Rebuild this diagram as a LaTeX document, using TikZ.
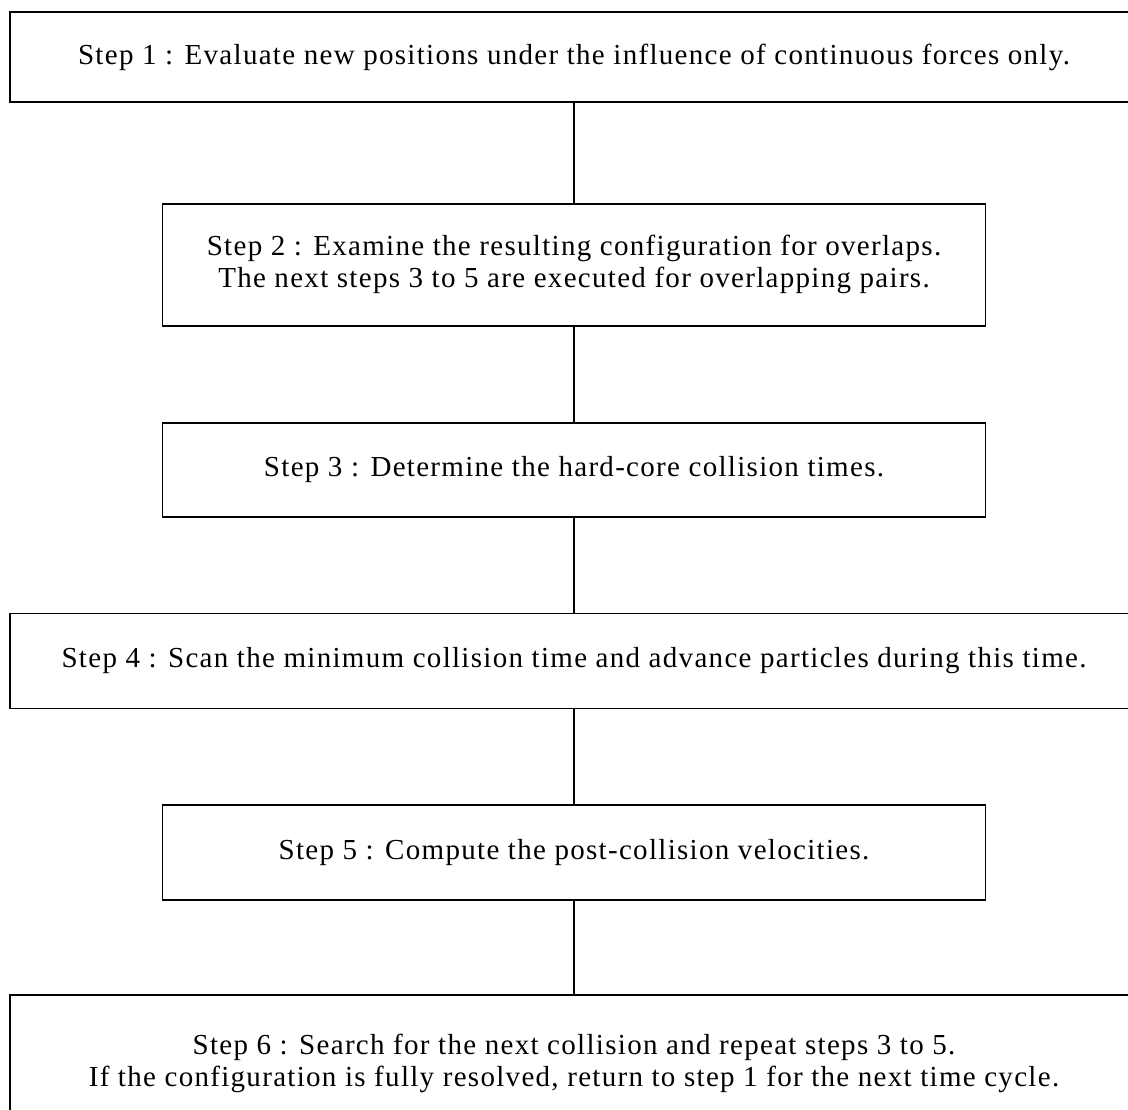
\documentclass[tikz,border=0pt]{standalone}
\usepackage{fontspec}
\setmainfont{Liberation Serif}[LetterSpace=4.5]
\usetikzlibrary{positioning}

\begin{document}
\begin{tikzpicture}[
    stepbox/.style={
        rectangle, draw,
        line width=0.9pt,
        inner sep=0pt,
        align=center,
        font=\fontsize{14.5}{16}\selectfont
    },
    wide/.style={stepbox, minimum width=564pt},
    narrow/.style={stepbox, minimum width=411.5pt},
    link/.style={line width=0.9pt},
    node distance=47.5pt
]
\useasboundingbox (0,0) rectangle (564pt,-554.5pt);
\clip (0,0) rectangle (564pt,-554.5pt);

% the six steps of one time cycle
\node[wide, minimum height=45pt] (step1) at (287pt,-28.5pt)
    {Step 1 : Evaluate new positions under the influence of continuous forces only.};
\node[narrow, minimum height=61pt, below=50pt of step1] (step2)
    {Step 2 : Examine the resulting configuration for overlaps.\\
     The next steps 3 to 5 are executed for overlapping pairs.};
\node[narrow, minimum height=47pt, below=of step2] (step3)
    {Step 3 : Determine the hard-core collision times.};
\node[wide, minimum height=47.5pt, below=of step3] (step4)
    {Step 4 : Scan the minimum collision time and advance particles during this time.};
\node[narrow, minimum height=47.5pt, below=of step4] (step5)
    {Step 5 : Compute the post-collision velocities.};
\node[wide, minimum height=68pt, below=46.5pt of step5] (step6)
    {Step 6 : Search for the next collision and repeat steps 3 to 5.\\
     If the configuration is fully resolved, return to step 1 for the next time cycle.};

% connectors
\draw[link] (step1) -- (step2);
\draw[link] (step2) -- (step3);
\draw[link] (step3) -- (step4);
\draw[link] (step4) -- (step5);
\draw[link] (step5) -- (step6);
\end{tikzpicture}
\end{document}
